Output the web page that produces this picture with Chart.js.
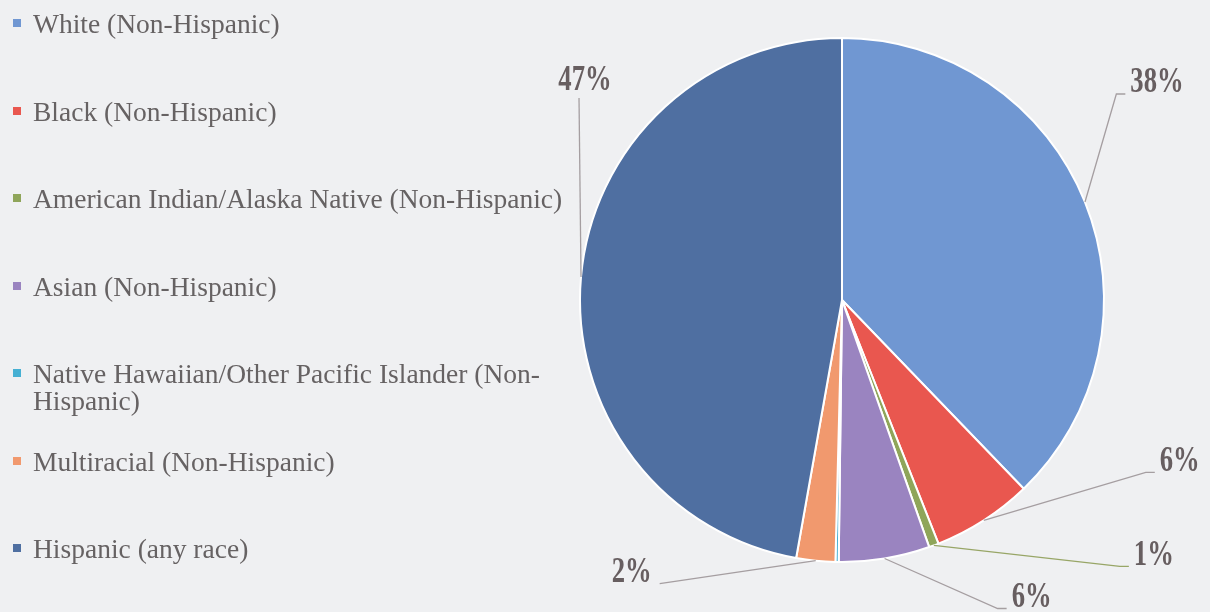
<!DOCTYPE html>
<html>
<head>
<meta charset="utf-8">
<script src="https://cdn.jsdelivr.net/npm/chart.js@4.4.1/dist/chart.umd.min.js"></script>
<style>
    html, body { margin: 0; padding: 0; }
    body {
        width: 1210px;
        height: 612px;
        background: #eff0f2;
        position: relative;
        overflow: hidden;
    }
    #chartWrap { position: absolute; left: 0; top: 0; width: 1210px; height: 612px; }
    #legend {
        position: absolute;
        left: 13px;
        top: 10px;
        margin: 0;
        padding: 0;
        list-style: none;
    }
    #legend li {
        height: 87.5px;
        display: flex;
        align-items: flex-start;
    }
    #legend .box {
        flex: none;
        width: 8px;
        height: 8px;
        margin-top: 9px;
        margin-right: 12px;
    }
    #legend .txt {
        max-width: 545px;
        font-family: "Liberation Serif", "Times New Roman", serif;
        font-size: 27.5px;
        line-height: 27px;
        color: #666263;
    }
</style>
</head>
<body>
<div id="chartWrap"><canvas id="raceChart" width="1210" height="612"></canvas></div>
<ul id="legend"></ul>
<script>
var groups = [
    'White (Non-Hispanic)',
    'Black (Non-Hispanic)',
    'American Indian/Alaska Native (Non-Hispanic)',
    'Asian (Non-Hispanic)',
    'Native Hawaiian/Other Pacific Islander (Non-Hispanic)',
    'Multiracial (Non-Hispanic)',
    'Hispanic (any race)'
];
var shares = [37.8, 6.2, 0.6, 5.6, 0.2, 2.4, 47.2];
var sliceColors = ['#7097d2', '#e9574f', '#8fa55a', '#9a84c0', '#46b0d3', '#f1996e', '#4f6fa1'];

// where each percentage sits relative to the slice edge, and which side the leader meets it
var labelSpots = [
    { dx: 72,   dy: -119, side: 'right', line: '#a59ea1' },
    { dx: 196,  dy: -59,  side: 'right', line: '#a59ea1' },
    { dx: 220,  dy: 10,   side: 'right', line: '#98a667' },
    { dx: 147,  dy: 39,   side: 'right', line: '#a59ea1' },
    null,
    { dx: -184, dy: 12,   side: 'left',  line: '#a59ea1' },
    { dx: 4,    dy: -196, side: 'below', line: '#a59ea1' }
];

var pctLabels = {
    id: 'pctLabels',
    afterDatasetsDraw: function (chart) {
        var ctx = chart.ctx;
        var arcs = chart.getDatasetMeta(0).data;
        var values = chart.data.datasets[0].data;
        ctx.save();
        ctx.font = 'bold 36px "Liberation Serif"';
        ctx.textAlign = 'center';
        ctx.textBaseline = 'middle';
        arcs.forEach(function (arc, i) {
            var spot = labelSpots[i];
            if (!spot) return;
            var mid = (arc.startAngle + arc.endAngle) / 2;
            var r = arc.outerRadius;
            var ax = arc.x + Math.cos(mid) * r;
            var ay = arc.y + Math.sin(mid) * r;
            var tx = ax + spot.dx;
            var ty = ay + spot.dy;
            var text = Math.round(values[i]) + '%';
            var sx = 0.74;
            var half = ctx.measureText(text).width * sx / 2;
            var bottom = ty + 11;

            ctx.strokeStyle = spot.line;
            ctx.lineWidth = 1.3;
            ctx.beginPath();
            ctx.moveTo(ax, ay);
            if (spot.side === 'right') {
                ctx.lineTo(tx - half - 14, bottom);
                ctx.lineTo(tx - half - 5, bottom);
            } else if (spot.side === 'left') {
                ctx.lineTo(tx + half + 8, bottom);
            } else {
                ctx.lineTo(tx - 6, bottom + 6);
            }
            ctx.stroke();

            ctx.save();
            ctx.translate(tx, ty);
            ctx.scale(sx, 1);
            ctx.fillStyle = '#675e60';
            ctx.fillText(text, 0, 0);
            ctx.restore();
        });
        ctx.restore();
    }
};

var ctx = document.getElementById('raceChart').getContext('2d');
var chart = new Chart(ctx, {
    type: 'pie',
    data: {
        labels: groups,
        datasets: [{
            data: shares,
            backgroundColor: sliceColors,
            borderColor: '#ffffff',
            borderWidth: 2
        }]
    },
    options: {
        responsive: false,
        animation: false,
        layout: {
            padding: { left: 578, right: 104, top: 37, bottom: 49 }
        },
        plugins: {
            legend: { display: false },
            tooltip: { enabled: false }
        }
    },
    plugins: [pctLabels]
});

// legend list built from the chart's own legend items
var list = document.getElementById('legend');
chart.options.plugins.legend.labels.generateLabels(chart).forEach(function (item) {
    var li = document.createElement('li');
    var box = document.createElement('span');
    box.className = 'box';
    box.style.background = item.fillStyle;
    var txt = document.createElement('span');
    txt.className = 'txt';
    txt.textContent = item.text;
    li.appendChild(box);
    li.appendChild(txt);
    list.appendChild(li);
});
</script>
</body>
</html>
